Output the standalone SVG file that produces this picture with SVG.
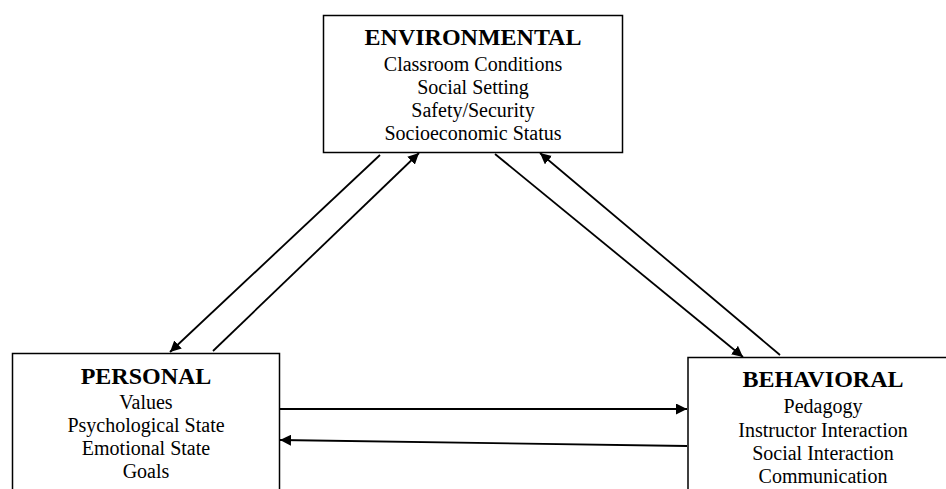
<svg xmlns="http://www.w3.org/2000/svg" width="946" height="489" viewBox="0 0 946 489">
<defs>
<style>
.box{fill:#fff;stroke:#000;stroke-width:1.5}
.t{font-family:"Liberation Serif","Times New Roman",serif;font-size:24px;font-weight:bold;text-anchor:middle;fill:#000}
.i{font-family:"Liberation Serif","Times New Roman",serif;font-size:20px;text-anchor:middle;fill:#000}
.c{stroke:#000;stroke-width:1.8;fill:none}
</style>
<marker id="ah" markerUnits="userSpaceOnUse" markerWidth="12" markerHeight="11" refX="11" refY="5.5" orient="auto">
<path d="M0,0 L11,5.5 L0,11 Z" fill="#000"/>
</marker>
</defs>
<rect width="946" height="489" fill="#fff"/>
<g id="environmental">
<rect class="box" x="323.5" y="15.5" width="299" height="137"/>
<text class="t" x="473" y="45">ENVIRONMENTAL</text>
<text class="i" x="473" y="71">Classroom Conditions</text>
<text class="i" x="473" y="94">Social Setting</text>
<text class="i" x="473" y="117">Safety/Security</text>
<text class="i" x="473" y="140">Socioeconomic Status</text>
</g>
<g id="personal">
<rect class="box" x="12.5" y="353.5" width="267" height="200"/>
<text class="t" x="146" y="384">PERSONAL</text>
<text class="i" x="146" y="409">Values</text>
<text class="i" x="146" y="432">Psychological State</text>
<text class="i" x="146" y="455">Emotional State</text>
<text class="i" x="146" y="478">Goals</text>
</g>
<g id="behavioral">
<rect class="box" x="688" y="357.5" width="300" height="200"/>
<text class="t" x="823" y="387">BEHAVIORAL</text>
<text class="i" x="823" y="413">Pedagogy</text>
<text class="i" x="823" y="437">Instructor Interaction</text>
<text class="i" x="823" y="460">Social Interaction</text>
<text class="i" x="823" y="483">Communication</text>
</g>
<g id="connectors">
<line class="c" x1="380" y1="155" x2="170" y2="352" marker-end="url(#ah)"/>
<line class="c" x1="213" y1="351" x2="419" y2="153" marker-end="url(#ah)"/>
<line class="c" x1="495" y1="154" x2="743" y2="357" marker-end="url(#ah)"/>
<line class="c" x1="780" y1="355" x2="540" y2="153" marker-end="url(#ah)"/>
<line class="c" x1="280" y1="409" x2="687" y2="409" marker-end="url(#ah)"/>
<line class="c" x1="687" y1="446" x2="280" y2="440" marker-end="url(#ah)"/>
</g>
</svg>
